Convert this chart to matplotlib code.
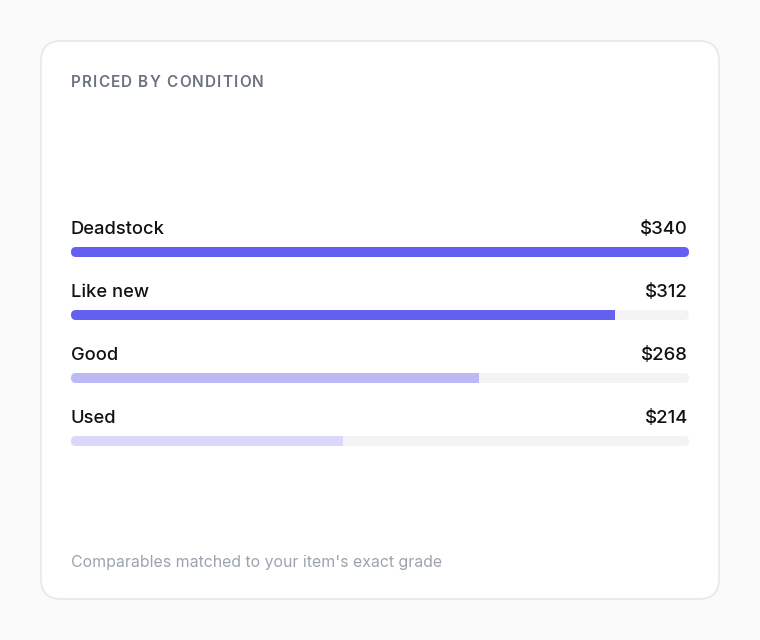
import matplotlib
matplotlib.use("Agg")
import matplotlib.pyplot as plt
from matplotlib.patches import FancyBboxPatch

plt.rcParams['font.family'] = ['Inter', 'DejaVu Sans']

# data
conditions = ["Deadstock", "Like new", "Good", "Used"]
prices = [340, 312, 268, 214]
fill_pct = [100, 88, 66, 44]
bar_colors = ["#6360f0", "#6360f0", "#bdb8f6", "#d9d8fa"]

title = "PRICED BY CONDITION"
footer = "Comparables matched to your item's exact grade"

W, H = 760, 640
fig = plt.figure(figsize=(W / 100, H / 100), dpi=100)
fig.patch.set_facecolor("#fafafa")
ax = fig.add_axes([0, 0, 1, 1])
ax.set_xlim(0, W)
ax.set_ylim(H, 0)
ax.axis("off")
renderer = fig.canvas.get_renderer()

# card
card = FancyBboxPatch((41, 41), 678, 558, boxstyle="round,pad=0,rounding_size=20",
                      fc="white", ec="#e8e8ea", lw=1.2)
ax.add_patch(card)

# title with letter spacing, char by char
tx = 71
for ch in title:
    t = ax.text(tx, 87, ch, fontsize=11, fontweight="semibold", color="#6b7280",
                va="baseline", ha="left")
    tx += t.get_window_extent(renderer).width + 1.15

x0, x1 = 71, 689
track_w = x1 - x0
bar_h = 10
row_gap = 63
first_base = 234

for i, (name, p, f, c) in enumerate(zip(conditions, prices, fill_pct, bar_colors)):
    base = first_base + i * row_gap
    ax.text(x0, base, name, fontsize=13.2, fontweight="medium", color="#111111",
            va="baseline", ha="left")
    ax.text(x1 - 1, base, f"${p}", fontsize=13.4, fontweight="medium", color="#111111",
            va="baseline", ha="right")
    cy = base + 18
    ax.add_patch(FancyBboxPatch((x0, cy - bar_h / 2), track_w, bar_h,
                                boxstyle="round,pad=0,rounding_size=5",
                                fc="#f3f3f5", ec="none"))
    w = track_w * f / 100
    if f < 100:
        # round left end only
        ax.add_patch(FancyBboxPatch((x0, cy - bar_h / 2), 10, bar_h,
                                    boxstyle="round,pad=0,rounding_size=5",
                                    fc=c, ec="none"))
        ax.add_patch(FancyBboxPatch((x0 + 5, cy - bar_h / 2), w - 5, bar_h,
                                    boxstyle="square,pad=0", fc=c, ec="none"))
    else:
        ax.add_patch(FancyBboxPatch((x0, cy - bar_h / 2), w, bar_h,
                                    boxstyle="round,pad=0,rounding_size=5",
                                    fc=c, ec="none"))

ax.text(71, 567, footer, fontsize=11.45, color="#9ca3af", va="baseline", ha="left")

fig.savefig("out.png", dpi=100, facecolor=fig.get_facecolor())
